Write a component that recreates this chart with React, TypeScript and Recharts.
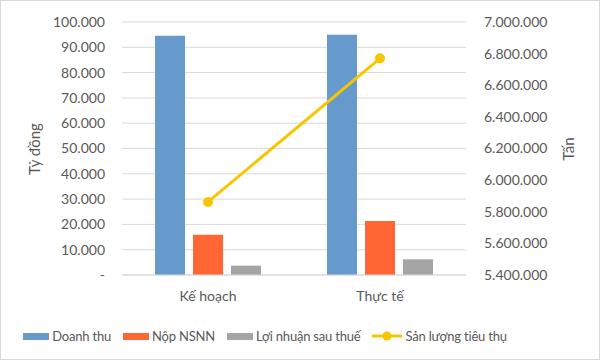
import { ComposedChart, Bar, Line, XAxis, YAxis, CartesianGrid } from 'recharts'

// ── Data ─────────────────────────────────────────────────
const categories = ['Kế hoạch', 'Thực tế']
const doanhThu = [94600, 95000]
const nopNSNN = [15900, 21300]
const loiNhuan = [3700, 6200]
const sanLuong = [5862000, 6770000]

const leftTicks = [0, 10000, 20000, 30000, 40000, 50000, 60000, 70000, 80000, 90000, 100000]
const rightTicks = [5400000, 5600000, 5800000, 6000000, 6200000, 6400000, 6600000, 6800000, 7000000]

// ── Palette ──────────────────────────────────────────────
const C = {
  blue: '#6699CC',
  orange: '#FF6633',
  grey: '#A5A5A5',
  yellow: '#F7C600',
  grid: '#D9D9D9',
  text: '#595959',
}

const FONT = 'Lato, "Open Sans", sans-serif'

const data = categories.map((name, i) => ({
  name,
  doanhThu: doanhThu[i],
  nopNSNN: nopNSNN[i],
  loiNhuan: loiNhuan[i],
  sanLuong: sanLuong[i],
}))

const fmt = (v: number) => (v === 0 ? '-' : v.toLocaleString('de-DE'))

const tick = { fontSize: 14, fill: C.text, fontFamily: FONT }

const legendItems = [
  { label: 'Doanh thu', color: C.blue, type: 'rect' },
  { label: 'Nộp NSNN', color: C.orange, type: 'rect' },
  { label: 'Lợi nhuận sau thuế', color: C.grey, type: 'rect' },
  { label: 'Sản lượng tiêu thụ', color: C.yellow, type: 'line' },
]

export default function App() {
  return (
    <div
      style={{
        position: 'absolute', left: 0, top: 0, width: 600, height: 360,
        boxSizing: 'border-box', border: '1px solid #D9D9D9', background: '#fff',
        fontFamily: FONT, overflow: 'hidden',
      }}
    >
      <div style={{ position: 'absolute', left: -1, top: -1 }}>
        <ComposedChart
          width={600}
          height={360}
          data={data}
          margin={{ top: 22, right: 0, left: 0, bottom: 50 }}
          barSize={30}
          barGap={8}
        >
          <CartesianGrid yAxisId="left" vertical={false} stroke={C.grid} />
          <XAxis
            dataKey="name"
            height={35}
            tick={tick}
            tickLine={false}
            axisLine={{ stroke: C.grid }}
            tickMargin={10}
          />
          <YAxis
            yAxisId="left"
            width={122}
            domain={[0, 100000]}
            ticks={leftTicks}
            tickFormatter={fmt}
            tick={tick}
            tickLine={false}
            axisLine={false}
            tickSize={6}
            tickMargin={11}
            interval={0}
          />
          <YAxis
            yAxisId="right"
            orientation="right"
            width={134}
            domain={[5400000, 7000000]}
            ticks={rightTicks}
            tickFormatter={fmt}
            tick={{ ...tick, textAnchor: 'start' }}
            tickLine={false}
            axisLine={false}
            tickSize={6}
            tickMargin={12}
            interval={0}
          />
          <Bar yAxisId="left" dataKey="doanhThu" fill={C.blue} isAnimationActive={false} />
          <Bar yAxisId="left" dataKey="nopNSNN" fill={C.orange} isAnimationActive={false} />
          <Bar yAxisId="left" dataKey="loiNhuan" fill={C.grey} isAnimationActive={false} />
          <Line
            yAxisId="right"
            dataKey="sanLuong"
            stroke={C.yellow}
            strokeWidth={3}
            dot={{ r: 5, fill: C.yellow, stroke: C.yellow, strokeWidth: 0 }}
            isAnimationActive={false}
          />
        </ComposedChart>
      </div>

      {/* axis titles */}
      <div style={{
        position: 'absolute', left: 33, top: 148, transform: 'translate(-50%, -50%) rotate(-90deg)',
        fontSize: 15, color: C.text, whiteSpace: 'nowrap',
      }}>Tỷ đồng</div>
      <div style={{
        position: 'absolute', left: 567, top: 148, transform: 'translate(-50%, -50%) rotate(-90deg)',
        fontSize: 15, color: C.text, whiteSpace: 'nowrap',
      }}>Tấn</div>

      {/* legend */}
      <div style={{
        position: 'absolute', left: 0, width: 528, top: 327, display: 'flex',
        justifyContent: 'center', alignItems: 'center', gap: 12, fontSize: 13,
        letterSpacing: -0.2, color: C.text,
      }}>
        {legendItems.map(it => (
          <div key={it.label} style={{ display: 'flex', alignItems: 'center', gap: 3 }}>
            {it.type === 'rect' ? (
              <span style={{ width: 26, height: 7, background: it.color, display: 'inline-block' }} />
            ) : (
              <svg width={30} height={12}>
                <line x1={0} y1={6} x2={30} y2={6} stroke={it.color} strokeWidth={3} />
                <circle cx={15} cy={6} r={4.5} fill={it.color} />
              </svg>
            )}
            <span>{it.label}</span>
          </div>
        ))}
      </div>
    </div>
  )
}
